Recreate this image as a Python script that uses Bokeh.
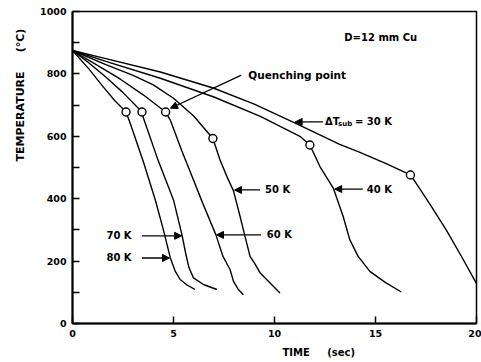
from bokeh.plotting import figure
from bokeh.models import Label, Arrow, NormalHead, FixedTicker, Range1d, Title
from bokeh.embed import file_html
from bokeh.resources import INLINE

# ---- data (time in s, temperature in degC) ----
t30 = [0, 1.65, 4.35, 7.0, 9.0, 11.0, 13.2, 14.2, 15.5, 16.73, 16.9, 17.7, 18.5, 19.3, 20.0]
T30 = [875, 849, 806, 754, 703, 643, 575, 549, 513, 476, 460, 382, 300, 210, 128]

t40 = [0, 1.65, 4.35, 7.0, 9.3, 11.26, 11.75, 12.25, 12.91, 13.4, 13.73, 14.14, 14.72, 15.5, 16.28]
T40 = [875, 840, 786, 726, 664, 600, 572, 503, 434, 343, 268, 215, 167, 131, 101]

t50 = [0, 1.65, 3.0, 4.0, 5.0, 6.0, 6.95, 7.3, 7.65, 7.97, 8.25, 8.54, 8.79, 9.04, 9.28, 9.61, 10.27]
T50 = [875, 830, 795, 765, 722, 665, 593, 525, 470, 425, 355, 279, 215, 190, 163, 141, 98]

t60 = [0, 1.65, 2.37, 3.5, 4.61, 4.84, 5.4, 5.99, 6.45, 7.1, 7.45, 7.8, 7.97, 8.2, 8.46]
T60 = [875, 811, 783, 733, 678, 652, 555, 460, 385, 284, 215, 173, 135, 110, 92]

t70 = [0, 0.8, 1.65, 2.5, 3.44, 3.52, 4.2, 5.0, 5.42, 5.6, 5.76, 5.99, 6.48, 7.15]
T70 = [875, 836, 790, 740, 678, 657, 530, 396, 284, 226, 180, 146, 125, 109]

t80 = [0, 0.8, 1.5, 2.1, 2.65, 2.86, 3.5, 4.1, 4.5, 4.84, 5.09, 5.33, 5.7, 6.07]
T80 = [875, 817, 760, 714, 678, 641, 520, 396, 300, 211, 167, 141, 122, 109]

# quenching points
q_t = [2.65, 3.44, 4.61, 6.95, 11.75, 16.73]
q_T = [678, 678, 678, 593, 572, 476]

x_ticks = [0, 5, 10, 15, 20]
y_ticks = [0, 200, 400, 600, 800, 1000]
y_minor = [100, 300, 500, 700, 900]

FONT = "DejaVu Sans"
NB = "\u00a0"

p = figure(width=481, height=362, output_backend="svg", toolbar_location=None,
           x_range=Range1d(0, 20), y_range=Range1d(0, 1000),
           min_border_left=72, min_border_right=5, min_border_top=11, min_border_bottom=38)
p.xgrid.visible = False
p.ygrid.visible = False
p.outline_line_color = "black"
p.outline_line_width = 1.5
p.background_fill_color = "white"
p.border_fill_color = "white"

for ax in (p.xaxis[0], p.yaxis[0]):
    ax.axis_line_width = 2
    ax.axis_line_color = "black"
    ax.major_tick_in = 7
    ax.major_tick_out = 0
    ax.major_tick_line_width = 1.5
    ax.minor_tick_in = 7
    ax.minor_tick_out = 0
    ax.minor_tick_line_width = 1.5
    ax.major_label_text_font = FONT
    ax.major_label_text_font_style = "bold"
    ax.major_label_text_font_size = "9.5px"
    ax.major_label_text_color = "black"
    ax.major_label_standoff = 6

p.xaxis[0].ticker = FixedTicker(ticks=x_ticks, minor_ticks=[])
p.yaxis[0].ticker = FixedTicker(ticks=y_ticks, minor_ticks=y_minor)

for tt, TT in ((t30, T30), (t40, T40), (t50, T50), (t60, T60), (t70, T70), (t80, T80)):
    p.line(tt, TT, line_color="black", line_width=1.4)

p.scatter(q_t, q_T, marker="circle", size=8, fill_color="white", line_color="black", line_width=1.4)

def lab(x, y, text, size="10px", align="left", baseline="middle", xo=0, yo=0):
    p.add_layout(Label(x=x, y=y, text=text, text_font=FONT, text_font_size=size,
                       text_font_style="bold", text_color="black", text_align=align,
                       text_baseline=baseline, x_offset=xo, y_offset=yo))

def arrow(x0, y0, x1, y1):
    p.add_layout(Arrow(x_start=x0, y_start=y0, x_end=x1, y_end=y1, line_width=1.3,
                       line_color="black",
                       end=NormalHead(size=7, fill_color="black", line_color="black", line_width=1)))

lab(15.26, 917, "D=12 mm Cu", align="center")
lab(8.7, 795, "Quenching point", size="10.5px")
arrow(8.36, 796, 4.85, 690)

lab(12.5, 646, "\u0394T")
lab(12.5, 646, "sub", size="7px", xo=13, yo=-2)
lab(12.5, 646, "= 30 K", xo=30)
arrow(12.4, 646, 11.02, 646)

lab(14.57, 431, "40 K")
arrow(14.37, 431, 12.98, 431)

lab(9.53, 428, "50 K")
arrow(9.28, 428, 8.02, 428)

lab(9.62, 284, "60 K")
arrow(9.33, 284, 7.13, 284)

lab(1.68, 281, "70 K")
arrow(3.44, 281, 5.4, 281)

lab(1.68, 210, "80 K")
arrow(3.44, 210, 4.8, 210)

# axis titles
p.add_layout(Title(text="TIME" + NB * 5 + "(sec)", align="left", offset=210, standoff=10,
                   text_font=FONT, text_font_size="10px", text_font_style="bold",
                   text_color="black"), "below")
p.add_layout(Title(text="TEMPERATURE" + NB * 5 + "(\u00b0C)", align="left", offset=162, standoff=22,
                   text_font=FONT, text_font_size="11px", text_font_style="bold",
                   text_color="black"), "left")

open("out.html", "w").write(file_html(p, INLINE))
